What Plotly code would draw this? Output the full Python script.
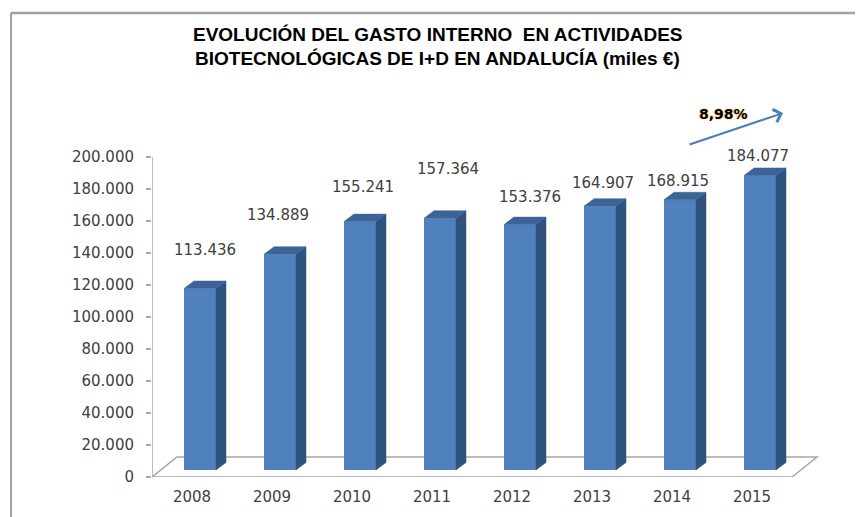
import plotly.graph_objects as go

# ---- data ----
years = ["2008", "2009", "2010", "2011", "2012", "2013", "2014", "2015"]
values = [113436, 134889, 155241, 157364, 153376, 164907, 168915, 184077]
y_ticks = [0, 20000, 40000, 60000, 80000, 100000, 120000, 140000, 160000, 180000, 200000]
growth_label = "8,98%"
title_lines = ["EVOLUCIÓN DEL GASTO INTERNO  EN ACTIVIDADES",
               "BIOTECNOLÓGICAS DE I+D EN ANDALUCÍA (miles €)"]

# ---- style / layout (pixel geometry, in screen pixels) ----
OFF = 8                      # default page body margin
W, H = 863, 517
PL, PR, PT, PB = 152, 840, 157, 477     # plot area on screen
L, T = PL - OFF, PT - OFF
R = W - (PR - OFF)
B = H - (PB - OFF)
PW, PH = PR - PL, PB - PT
X0, X1 = -0.5, -0.5 + PW / 80.0
Y0, Y1 = 0, 200000
u_per_px = (Y1 - Y0) / PH           # data units per pixel (y)
xu_per_px = 1 / 80.0                 # data units per pixel (x)

def px(xp):
    return (xp - PL) / PW

def py(yp):
    return (PB - yp) / PH

front_col = "#4f81bd"
side_col = "#30527f"
top_col = "#3b6397"
grid_col = "#a6a6a6"
txt_col = "#404040"

bar_shift_x = 8 * xu_per_px
bar_shift_y = 7 * u_per_px
bar_half = 16 * xu_per_px
depth_x = 10 * xu_per_px
depth_y = 7.5 * u_per_px
floor_dx = 25 * xu_per_px
floor_dy = 20 * u_per_px

# per-label pixel offsets (Excel positioned labels individually)
label_dx = [13, 6, 11, 16, 18, 11, 6, 6]
label_dy = [46, 46, 42, 56, 35, 30, 26, 26]

fig = go.Figure()
n = len(years)

# bars
for i, v in enumerate(values):
    xl = i + bar_shift_x - bar_half
    xr = i + bar_shift_x + bar_half
    yb = bar_shift_y
    yt = v + bar_shift_y
    # side face
    fig.add_trace(go.Scatter(
        x=[xr, xr + depth_x, xr + depth_x, xr, xr],
        y=[yb, yb + depth_y, yt + depth_y, yt, yb],
        mode="lines", fill="toself", fillcolor=side_col, line=dict(color=side_col, width=0.5),
        hoverinfo="skip", showlegend=False))
    # top face
    fig.add_trace(go.Scatter(
        x=[xl, xr, xr + depth_x, xl + depth_x, xl],
        y=[yt, yt, yt + depth_y, yt + depth_y, yt],
        mode="lines", fill="toself", fillcolor=top_col, line=dict(color=top_col, width=0.5),
        hoverinfo="skip", showlegend=False))

# front faces as real bars
fig.add_trace(go.Bar(x=[i + bar_shift_x for i in range(n)], y=values, base=bar_shift_y,
                     width=2 * bar_half, marker=dict(color=front_col, line=dict(width=0)),
                     showlegend=False, hoverinfo="skip"))

# y axis line drawn from the scale
fig.add_trace(go.Scatter(x=[X0, X0], y=[Y0, Y1], mode="lines",
                         line=dict(color=grid_col, width=1.5), hoverinfo="skip", showlegend=False))

annotations = []
for i, v in enumerate(values):
    annotations.append(dict(
        x=i, y=v, xref="x", yref="y", text=f"{v:,}".replace(",", "."),
        showarrow=False, xshift=label_dx[i], yshift=label_dy[i],
        xanchor="center", yanchor="middle",
        font=dict(family="DejaVu Sans", size=15, color=txt_col)))

# title
for k, yy in enumerate([35, 58]):
    annotations.append(dict(x=px(437), y=py(yy), xref="paper", yref="paper", text=title_lines[k],
                            showarrow=False, xanchor="center", yanchor="middle",
                            font=dict(family="Liberation Sans", size=19, color="black", weight="bold")))

# growth arrow + label
annotations.append(dict(x=px(783), y=py(113), xref="paper", yref="paper",
                        ax=688 - 783, ay=145 - 113, axref="pixel", ayref="pixel",
                        text="", showarrow=True,
                        arrowhead=4, arrowsize=1.3, arrowwidth=2, arrowcolor="#4a7ebb"))
annotations.append(dict(x=px(723), y=py(114), xref="paper", yref="paper", text=growth_label,
                        showarrow=False, xanchor="center", yanchor="middle",
                        font=dict(family="DejaVu Sans", size=14, color="black", weight="bold",
                                  shadow="0px 0px 2px #f5a623")))

# floor (3D base) as a path in data coordinates, below the bars
fpts = [(X0, 0), (n - 0.5, 0), (n - 0.5 + floor_dx, floor_dy), (X0 + floor_dx, floor_dy)]
floor_path = "M" + " L".join(f"{a},{b}" for a, b in fpts) + " Z"

BORDER_TOP = 13

fig.update_layout(
    width=W, height=H,
    margin=dict(l=L, r=R, t=T, b=B, pad=0),
    plot_bgcolor="white", paper_bgcolor="white",
    separators=",.",
    barmode="overlay",
    xaxis=dict(range=[X0, X1], tickvals=list(range(n)), ticktext=years, showgrid=False,
               zeroline=False, showline=False, ticks="outside", ticklen=6, tickcolor="rgba(0,0,0,0)",
               tickfont=dict(family="DejaVu Sans", size=15, color=txt_col), fixedrange=True),
    yaxis=dict(range=[Y0, Y1], tickvals=y_ticks, tickformat=",d", showgrid=False, zeroline=False,
               showline=False, ticks="outside", ticklen=5, tickcolor=grid_col, tickwidth=1.5,
               ticklabelstandoff=9,
               tickfont=dict(family="DejaVu Sans", size=15, color=txt_col), fixedrange=True),
    annotations=annotations,
    shapes=[
        # outer chart border: left edge and top edge
        dict(type="line", xref="paper", yref="paper",
             x0=px(11), x1=px(11), y0=py(540), y1=py(BORDER_TOP),
             line=dict(color="#a0a0a0", width=2), layer="above"),
        dict(type="line", xref="paper", yref="paper",
             x0=px(11), x1=px(880), y0=py(BORDER_TOP), y1=py(BORDER_TOP),
             line=dict(color="#a0a0a0", width=2.5), layer="above"),
        dict(type="path", xref="x", yref="y", path=floor_path, fillcolor="white",
             line=dict(color=grid_col, width=1.5), layer="below"),
    ],
)

fig.write_html("out.html")
